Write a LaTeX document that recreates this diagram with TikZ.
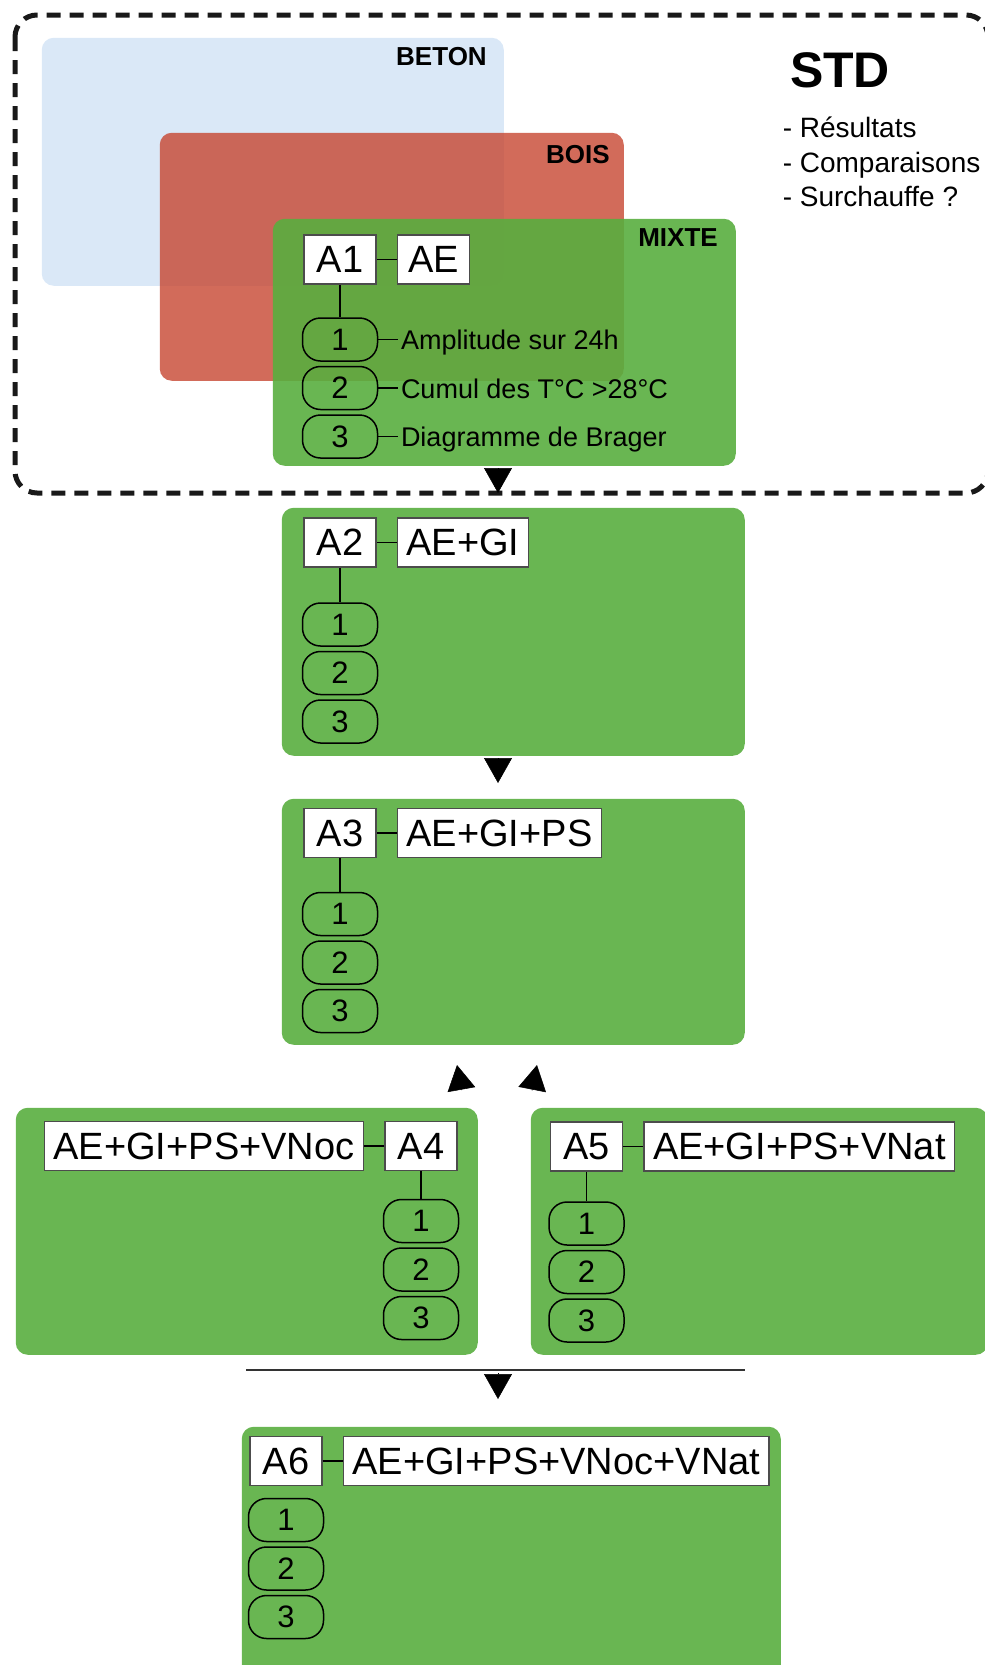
\documentclass[tikz,border=0pt]{standalone}
\usepackage{fontspec}
\setmainfont{Liberation Sans}
\usetikzlibrary{positioning,arrows.meta}

\definecolor{betonblue}{RGB}{218,232,247}
\definecolor{boisred}{RGB}{199,70,49}
\definecolor{mixtegreen}{RGB}{89,174,63}

\def\pillsep{48.5}

\begin{document}
\begin{tikzpicture}[x=1pt,y=-1pt,line width=1.5pt,node distance=20pt]
    \tikzstyle{zone}=[rounded corners=12pt,inner sep=0pt,anchor=north west]
    \tikzstyle{stage}=[zone,fill=mixtegreen,fill opacity=0.9]
    \tikzstyle{zone label}=[anchor=north east,inner sep=0pt,font=\fontsize{26}{28}\selectfont\bfseries]
    \tikzstyle{code box}=[draw=black!70,fill=white,minimum width=72pt,minimum height=49pt,inner xsep=9pt,inner ysep=0pt,font=\fontsize{38}{40}\selectfont]
    \tikzstyle{pill}=[draw=black,rounded corners=18pt,minimum width=75pt,minimum height=43pt,inner sep=0pt,font=\fontsize{31}{32}\selectfont]
    \tikzstyle{crit}=[inner sep=2pt,text height=20pt,text depth=0pt,font=\fontsize{27}{28}\selectfont]
    \tikzstyle{flow}=[-{Triangle[length=25pt,width=28pt]},line width=0.5pt,black]

    \useasboundingbox (0,0) rectangle (985,1665);
    \clip (0,0) rectangle (985,1665);

    % The STD frame and its notes
    \draw[line width=5pt,dash pattern=on 14pt off 9pt,rounded corners=22pt,black!90] (15,15) rectangle (988,493);
    \node[font=\fontsize{50}{52}\selectfont\bfseries] (std) at (840,70) {STD};
    \node[anchor=west,align=left,inner sep=0pt,font=\fontsize{28}{34.5}\selectfont] (notes) at (782,162) {- Résultats\\- Comparaisons\\- Surchauffe ?};

    % Draw the three wall zones
    \node[zone,fill=betonblue,minimum width=462pt,minimum height=248pt] (beton) at (41,37) {};
    \node[zone,fill=boisred,fill opacity=0.8,minimum width=464pt,minimum height=248pt] (bois) at (159,132) {};
    \node[stage,minimum width=463pt,minimum height=247pt] (S1) at (272,218) {};
    \node[zone label] at ([xshift=-17pt,yshift=-10pt]beton.north east) {BETON};
    \node[zone label] at ([xshift=-14pt,yshift=-13pt]bois.north east) {BOIS};
    \node[zone label] at ([xshift=-18pt,yshift=-10pt]S1.north east) {MIXTE};

    % Draw the other stages
    \node[stage,minimum width=463pt,minimum height=248pt] (S2) at (281,507) {};
    \node[stage,minimum width=463pt,minimum height=246pt] (S3) at (281,798) {};
    \node[stage,minimum width=462pt,minimum height=247pt] (S4) at (15,1107) {};
    \node[stage,minimum width=457pt,minimum height=247pt] (S5) at (530,1107) {};
    \node[stage,minimum width=539pt,minimum height=300pt] (S6) at (241,1426) {};

    % Codes, variants and the three criteria of each stage
    \foreach \n/\x/\y/\d/\h in {1/340/259.5/80/AE,2/340/542.5/82/AE+GI,3/340/833/81/AE+GI+PS,5/586.5/1146.5/77/AE+GI+PS+VNat,6/286/1461/59/AE+GI+PS+VNoc+VNat}
    {
        \node[code box] (A\n) at (\x,\y) {A\n};
        \node[code box,right=of A\n] (H\n) {\h};
        \draw (A\n) -- (H\n);
        \foreach \k in {1,2,3}
            \node[pill] (P\n-\k) at ({\x},{\y+\d+\pillsep*(\k-1)}) {\k};
    }
    % A4 has its variant on the left
    \node[code box] (A4) at (421,1146) {A4};
    \node[code box,left=of A4] (H4) {AE+GI+PS+VNoc};
    \draw (A4) -- (H4);
    \foreach \k in {1,2,3}
        \node[pill] (P4-\k) at (421,{1146+75+\pillsep*(\k-1)}) {\k};

    \foreach \n in {1,...,5}
        \draw (A\n) -- (P\n-1);

    % Name the criteria once
    \foreach \k/\t in {1/Amplitude sur 24h,2/Cumul des T°C >28°C,3/Diagramme de Brager}
    {
        \node[crit,right=of P1-\k] (C\k) {\t};
        \draw (P1-\k) -- (C\k);
    }

    % Arrows between the stages
    \coordinate (axis) at (498,0);
    \draw[flow,shorten <=3pt,shorten >=14pt] (S1.south -| axis) -- (S2.north -| axis);
    \draw[flow,shorten <=3pt,shorten >=15pt] (S2.south -| axis) -- (S3.north -| axis);
    \coordinate (up4) at (461.5,1090);
    \coordinate (in4) at (457,1065);
    \coordinate (up5) at (532,1090.5);
    \coordinate (in5) at (537,1065);
    \draw[flow] (up4) -- (in4);
    \draw[flow] (up5) -- (in5);
    \coordinate (bar west) at (246,1370);
    \coordinate (bar east) at (745,1370);
    \draw[line width=2.5pt,black!80] (bar west) -- (bar east);
    \draw[flow,shorten <=3pt,shorten >=27pt] (bar west -| axis) -- (S6.north -| axis);

\end{tikzpicture}
\end{document}
